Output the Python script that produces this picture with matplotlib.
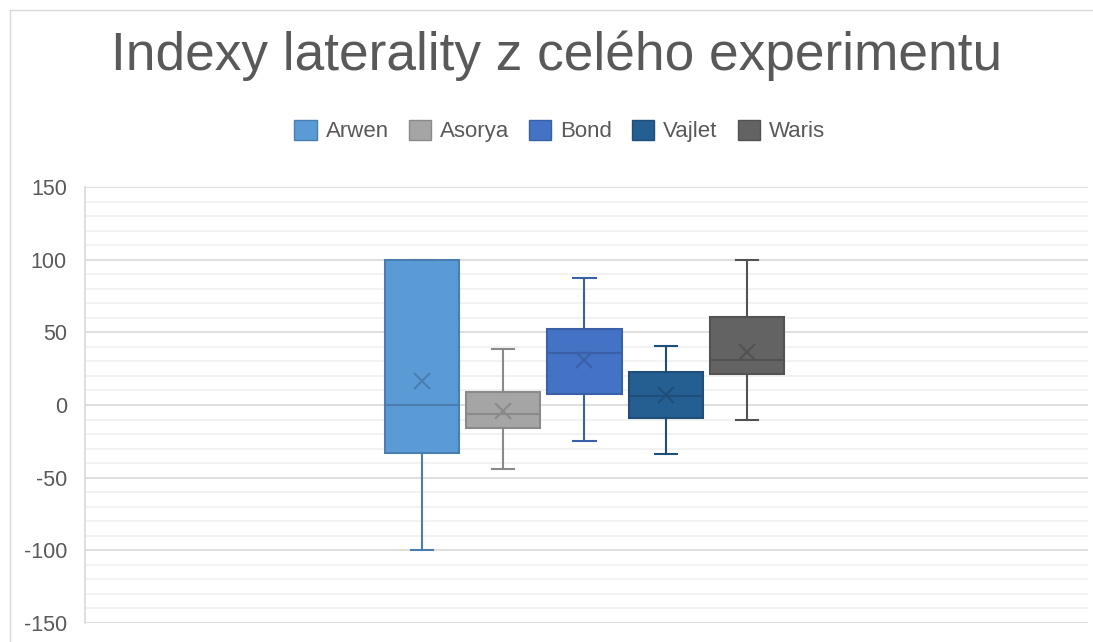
import numpy as np
import matplotlib
matplotlib.use("Agg")
import matplotlib.pyplot as plt
from matplotlib.patches import Rectangle, Patch

plt.rcParams["font.family"] = ["Liberation Sans", "DejaVu Sans"]
plt.rcParams["axes.unicode_minus"] = False

TEXT_COLOR = "#595959"
GRID_COLOR = "#D9D9D9"
MINOR_GRID_COLOR = "#F0F0F0"

names = ["Arwen", "Asorya", "Bond", "Vajlet", "Waris"]
fill_colors = ["#5B9BD5", "#A5A5A5", "#4472C4", "#255E91", "#636363"]
edge_colors = ["#4A7EB0", "#8A8A8A", "#3A61A8", "#1F4E78", "#525252"]

whisker_low = [-100, -44, -24.5, -33.5, -10.5]
q1 = [-33, -16, 7.3, -9.2, 21]
median = [0, -6.4, 35.5, 6.4, 31]
q3 = [100, 9, 52.2, 22.5, 60.5]
whisker_high = [100, 38.5, 87.5, 40.5, 100]
mean = [16.5, -3.9, 31, 7, 36.6]

fig = plt.figure(figsize=(10.93, 6.42), dpi=100)
ax = fig.add_axes([85 / 1093, 1 - 623 / 642, 1003 / 1093, 436 / 642])

offsets = (np.arange(len(names)) - 2) * 0.081
positions = 0.498 + offsets

for i, name in enumerate(names):
    stats = [{
        "whislo": whisker_low[i], "q1": q1[i], "med": median[i],
        "q3": q3[i], "whishi": whisker_high[i], "mean": mean[i],
        "fliers": [], "label": name,
    }]
    ec = edge_colors[i]
    ax.bxp(stats, positions=[positions[i]], widths=0.074, capwidths=0.022,
           patch_artist=True, showmeans=True, manage_ticks=False,
           boxprops=dict(facecolor=fill_colors[i], edgecolor=ec, linewidth=1.5),
           medianprops=dict(color=ec, linewidth=1.5),
           whiskerprops=dict(color=ec, linewidth=1.5),
           capprops=dict(color=ec, linewidth=1.5),
           meanprops=dict(marker="x", markeredgecolor=ec, markersize=12,
                          markeredgewidth=1.5),
           zorder=3)

ax.set_xlim(0, 1)
ax.set_ylim(-150, 150)
ax.set_yticks(np.arange(-150, 151, 50))
ax.set_yticks(np.arange(-150, 151, 10), minor=True)
ax.set_xticks([])
ax.grid(axis="y", which="major", color=GRID_COLOR, linewidth=1.2, zorder=0)
ax.grid(axis="y", which="minor", color=MINOR_GRID_COLOR, linewidth=1.2, zorder=0)
ax.tick_params(axis="y", which="both", length=0, labelsize=15.5,
               labelcolor=TEXT_COLOR, pad=13)
for side in ["top", "right", "bottom"]:
    ax.spines[side].set_visible(False)
ax.spines["left"].set_color(GRID_COLOR)
ax.spines["left"].set_linewidth(1.2)

fig.patches.append(Rectangle((10 / 1093, -0.1), 1.2, (1 - 10 / 642) + 0.1,
                             transform=fig.transFigure, fill=False,
                             edgecolor="#D9D9D9", linewidth=1))

fig.text(0.509, 1 - 56 / 642, "Indexy laterality z celého experimentu",
         ha="center", va="center", fontsize=38.3, color=TEXT_COLOR)

handles = [Patch(facecolor=fill_colors[i], edgecolor=edge_colors[i], label=n)
           for i, n in enumerate(names)]
fig.legend(handles=handles, loc="center", bbox_to_anchor=(0.512, 1 - 131 / 642),
           ncol=5, frameon=False, fontsize=16, labelcolor=TEXT_COLOR,
           handlelength=1.0, handleheight=1.0, handletextpad=0.4,
           columnspacing=0.9)

fig.savefig("out.png", dpi=100)
